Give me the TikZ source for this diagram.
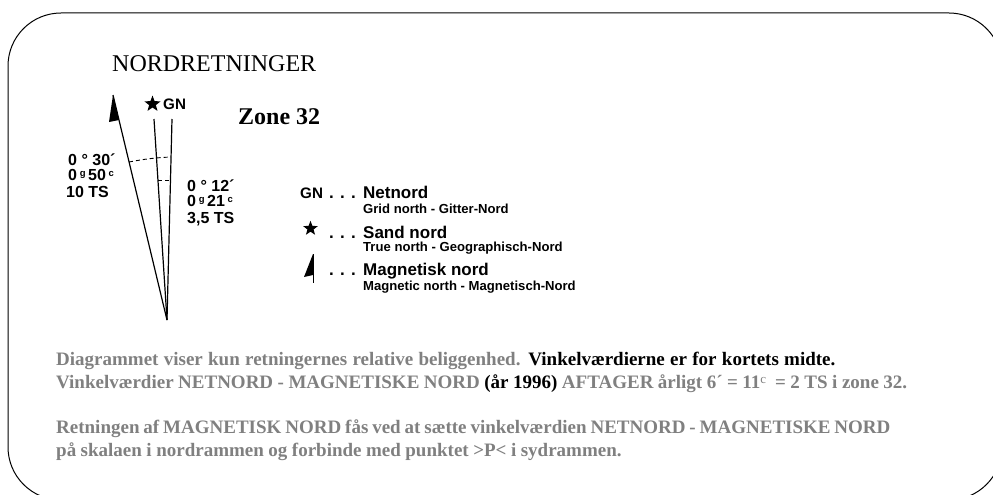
\documentclass[tikz,border=0pt]{standalone}
\usepackage{fontspec}
\setmainfont{Liberation Serif}
\setsansfont{Liberation Sans}
\usepackage{xcolor}
\usetikzlibrary{shapes.geometric}
\definecolor{notegray}{RGB}{128,128,128}
\tikzset{
  txt/.style={inner sep=0pt,anchor=base west},
  ang/.style={txt,font=\sffamily\bfseries\fontsize{16}{18}\selectfont},
  gnlab/.style={txt,font=\sffamily\bfseries\fontsize{15.2}{17}\selectfont},
  leg/.style={txt,font=\sffamily\bfseries\fontsize{17}{19}\selectfont},
  legsub/.style={txt,font=\sffamily\bfseries\fontsize{13.1}{15}\selectfont},
  note/.style={txt,font=\bfseries\fontsize{19}{21}\selectfont,text=notegray},
  stern/.style={star,star points=5,star point ratio=2.4,fill=black,inner sep=0pt,minimum size=14pt},
  north/.style={line width=1.2pt},
  ticks/.style={line width=0.9pt,dash pattern=on 4pt off 3pt}
}
\newcommand{\smallup}[1]{\raisebox{4pt}{\fontsize{9.5}{9.5}\selectfont #1}}
\begin{document}
\begin{tikzpicture}[x=1pt,y=-1pt]
\useasboundingbox (0,0) rectangle (993,495);
\draw[line width=1pt,rounded corners=53pt] (8,13) rectangle (1002,500);
\node[txt,font=\fontsize{24}{26}\selectfont] (title) at (112,71) {NORDRETNINGER};
\node[txt,font=\bfseries\fontsize{24}{26}\selectfont] (zone) at (238,124) {Zone 32};
% north lines
\coordinate (base) at (167,320);
\coordinate (magtip) at (113,95); \coordinate (magl) at (109,122); \coordinate (magr) at (119,120);
\coordinate (true) at (154,119); \coordinate (grid) at (172,119);
\draw[north] (base) -- (magtip); \fill (magtip) -- (magl) -- (magr) -- cycle;
\draw[north] (base) -- (true); \draw[north] (base) -- (grid);
\node[stern,minimum size=17pt] (s1) at (152.5,104) {};
\node[gnlab] (gn) at (163,109) {GN};
\coordinate (a1) at (129,162); \coordinate (a2) at (171,157); \coordinate (a3) at (158,180); \coordinate (a4) at (170,180);
\draw[ticks] (a1) to[bend left=4] (a2); \draw[ticks] (a3) -- (a4);
\node[ang] (l1) at (68,165) {0 ° 30´}; \node[ang] (l2) at (68,180.5) {0\,\smallup{g}\,50\,\smallup{c}}; \node[ang] (l3) at (66,197) {10 TS};
\node[ang] (r1) at (187,191) {0 ° 12´}; \node[ang] (r2) at (187,206.5) {0\,\smallup{g}\,21\,\smallup{c}}; \node[ang] (r3) at (187,223) {3,5 TS};
% legend
\node[gnlab] (lgn) at (300,198) {GN};
\node[stern,minimum size=15.5pt] (s2) at (310.5,228.5) {};
\coordinate (ltip) at (313,254); \coordinate (ll) at (304,277); \coordinate (lr) at (313,275); \coordinate (lend) at (313,283);
\fill (ltip) -- (ll) -- (lr) -- cycle; \draw (ltip) -- (lend);
\node[leg] (d1) at (329,198) {. . .}; \node[leg] (d2) at (329,238) {. . .}; \node[leg] (d3) at (329,275) {. . .};
\node[leg] (n1) at (363,198) {Netnord}; \node[legsub] (n1b) at (363,213) {Grid north - Gitter-Nord};
\node[leg] (n2) at (363,238) {Sand nord}; \node[legsub] (n2b) at (363,251) {True north - Geographisch-Nord};
\node[leg] (n3) at (363,275) {Magnetisk nord}; \node[legsub] (n3b) at (363,290) {Magnetic north - Magnetisch-Nord};
% notes
\node[note] (t1) at (56,365) {\spaceskip=5.3pt Diagrammet viser kun retningernes relative beliggenhed.\hspace{1pt} \textcolor{black}{Vinkelværdierne er for kortets midte.}};
\node[note] (t2) at (56,388) {\spaceskip=4.5pt Vinkelværdier NETNORD - MAGNETISKE NORD \textcolor{black}{(år 1996)} AFTAGER årligt 6´ = 11{\mdseries\raisebox{5pt}{\fontsize{13}{13}\selectfont c}}\ \ = 2 TS i zone 32.};
\node[note] (t3) at (56,433) {\spaceskip=3.9pt Retningen af MAGNETISK NORD fås ved at sætte vinkelværdien NETNORD - MAGNETISKE NORD};
\node[note] (t4) at (56,456) {\spaceskip=4.5pt på skalaen i nordrammen og forbinde med punktet >P< i sydrammen.};
\end{tikzpicture}
\end{document}
